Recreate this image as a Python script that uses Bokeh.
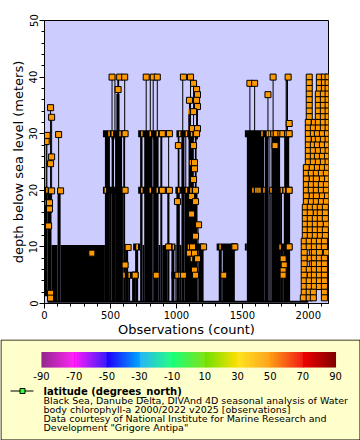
from bokeh.plotting import figure
from bokeh.layouts import column
from bokeh.models import Range1d, FixedTicker
from bokeh.core.properties import value
from bokeh.embed import file_html
from bokeh.resources import INLINE

FONT = "DejaVu Sans"
# solid profile blocks: start obs, end obs, deepest depth, shallowest depth
band_start = [0,23,53,99,122,458,496,509,527,535,588,597,611,634,664,687,725,743,756,819,824,865,878,893,931,962,992,1000,1010,1025,1038,1061,1092,1140,1160,1168,1321,1344,1351,1534,1664,1669,1699,1705,1712,1720,1786,1801,1814,1817,1834,545,552]
band_end   = [23,53,99,122,458,496,509,527,535,588,597,611,634,649,687,710,743,756,819,824,865,878,893,931,947,985,1000,1025,1023,1038,1061,1160,1132,1153,1168,1206,1344,1351,1443,1664,1669,1699,1705,1712,1720,1786,1801,1814,1862,1855,1846,568,566]
band_top   = [20,20,10.35,20,10.35,30,20,30,20,30,20,30,10.35,5,5,10.35,30,10.35,30,20,30,10.35,30,10.35,20,10.35,10.35,20,30,10.35,30,20,30,30,14,10.35,10.35,5,10.35,30,20,30,20,30,20,30,20,10.35,20,30,40,37,40]
band_bot   = [1.3]+[0.44]*52

# thin single profiles
line_x   = [13,18,46,54,107,512,534,608,771,802,824,855,941,1048,1071,1094,1099,1107,1130,1153,1160,1557,1593,1694,1733,1832]
line_top = [28.6,29.7,34.6,32.9,29.85,40,40,40,40,40,40,40,30,40,30,33.9,35.9,40,38.9,35.9,34.8,38.9,38.9,36.9,40,40]
line_bot = [17,17,16,16,19,29,29,29,29,29,29,29,19,29,19,29,29,29,29,29,29,29,29,29,29,29]

# overlapping marker runs that read as black bars
cap_start = [443,710,1000,1519,443,710,992,1557,1704,1781,0,0,672,924,1069,1305,1519,1781,603,962]
cap_end   = [611,947,1160,1878,611,947,1153,1677,1727,1878,30,38,725,992,1206,1450,1534,1878,708,1069]
cap_depth = [30,30,30,30,20,20,20,20,20,20,20,17.8,10,10,10,10,10,10,5,5]

sliver_x = [489,514,573,461,703,738,802,855,738,802,855,534,603,642,1025,1076,1115,1018,1076,1110,1092,1107,1114,1008,1023,998,977,702,1331,1649,1690,1705,1725,1786,1817,1580,1603,1618,1633,1664,1717,1796,1817,1832,1786,18,13,802,1094,1807]
sliver_y = [30,30,30,20,10,30,30,30,20,20,20,40,5,5,30,30,30,20,20,20,10,24.9,7.9,5,5,5,10,10,10,30,30,30,30,30,30,20,20,20,20,20,20,20,20,30,10,20,17.8,40,33.9,7.9]

# observation markers away from the dense column block
obs_x = [46,54,20,107,13,54,46,54,122,38,38,31,46,46,359,634,611,687,512,570,608,558,611,611,
         771,824,855,893,947,893,947,941,687,847,1053,1053,1107,1130,1153,1160,1099,1153,1160,1130,1122,1160,1153,1015,1130,1137,1137,1130,1145,1115,1008,1145,1115,1168,1145,1122,1206,1099,1137,1160,1137,1145,
         1359,1438,1557,1593,1694,1733,1847,1855,1757,1792,1807,1842,1855,1748,1855,1855,1443,1809,1817,1809,1809]
obs_y = [34.6,32.9,29.7,29.85,28.6,25.9,24.7,19.9,19.9,17.8,16.7,13.7,1.8,0.95,8.9,9.9,6.8,5,40,40,40,37.8,30,20,
         40,40,40,30,30,20,20,10,5,5,40,5,40,38.9,37.8,36.9,35.9,35.9,34.8,33.9,30.9,30.9,30,27.9,27.9,24.9,23.8,21.9,20,18.9,18,18,15.8,13.9,11.9,10,10,8.9,8.9,7.9,5.9,5,
         5,10,38.9,38.9,36.9,40,40,31.8,30,30,30,30,30,27.9,20,10,10,7.9,6.8,5.8,5]

# profile grid at the right edge, one list of observation numbers per depth
grid_depth = list(reversed(range(1, 41)))
grid_obs = [
 [2007,2084,2122,2150],[2007,2084,2122,2150],[2007,2084,2122,2150],[2007,2076,2114,2150],[2007,2076,2114,2150],
 [2007,2076,2114,2150],[2007,2076,2114,2150],[2007,2076,2114,2150],[2000,2046,2076,2114,2150],[2000,2038,2076,2114,2150],
 [2000,2038,2069,2107,2145],[2000,2046,2076,2114,2150],[2000,2038,2069,2107,2145],[2000,2038,2076,2114,2150],[2000,2038,2069,2107,2145],
 [2000,2038,2076,2114,2150],[1985,2030,2069,2107,2145],[1985,2023,2061,2099,2137],[1985,2030,2061,2107,2145],[1985,2023,2061,2099,2137],
 [1985,2023,2061,2099,2137],[1985,2030,2061,2107,2145],[1985,2023,2061,2099,2137],[1977,2015,2053,2091,2129],[1977,2015,2061,2091,2129],
 [1977,2015,2053,2091,2129],[1977,2015,2053,2091,2137],[1977,2015,2053,2091,2129],[1977,2015,2053,2091,2129],[1969,2007,2046,2084,2122],
 [1969,2007,2046,2084,2122],[1969,2030,2046,2084,2137],[1969,2015,2046,2084,2122],[1969,2030,2046,2084,2122],[1969,2007,2046,2084,2122],
 [1969,2015,2046,2084,2122],[1969,2007,2046,2084,2122],[1969,2007,2046,2084,2122],[1969,2007,2038,2122],[1962,2007,2038,2122],
]

x_ticks = [0,500,1000,1500,2000]
x_minor = [100,200,300,400,600,700,800,900,1100,1200,1300,1400,1600,1700,1800,1900,2100]
y_ticks = [0,10,20,30,40,50]
y_minor = [2,4,6,8,12,14,16,18,22,24,26,28,32,34,36,38,42,44,46,48]

p = figure(width=360, height=339, output_backend="svg", toolbar_location=None,
           x_range=Range1d(0, 2153), y_range=Range1d(0, 50),
           min_border_left=44, min_border_right=32, min_border_top=20, min_border_bottom=36,
           background_fill_color="#ccccff", border_fill_color="#ffffff",
           x_axis_label="Observations (count)", y_axis_label="depth below sea level (meters)")
p.margin = 0
p.grid.visible = False
p.outline_line_color = "#000000"
p.outline_line_width = 1

for ax in (p.xaxis[0], p.yaxis[0]):
    ax.axis_line_color = "#000000"
    ax.major_tick_line_color = "#000000"
    ax.minor_tick_line_color = "#000000"
    ax.major_tick_in = 0
    ax.major_tick_out = 5
    ax.minor_tick_in = 0
    ax.minor_tick_out = 3
    ax.major_label_text_font = FONT
    ax.major_label_text_font_size = "10px"
    ax.major_label_text_color = "#000000"
    ax.axis_label_text_font = FONT
    ax.axis_label_text_font_size = "13px"
    ax.axis_label_text_font_style = "normal"
    ax.axis_label_text_color = "#000000"
p.xaxis[0].ticker = FixedTicker(ticks=x_ticks, minor_ticks=x_minor)
p.yaxis[0].ticker = FixedTicker(ticks=y_ticks, minor_ticks=y_minor)
p.yaxis[0].major_label_orientation = "vertical"
p.xaxis[0].major_label_standoff = 2
p.yaxis[0].major_label_standoff = 2
p.xaxis[0].axis_label_standoff = 0
p.yaxis[0].axis_label_standoff = 1

p.quad(left=band_start, right=band_end, top=band_top, bottom=band_bot,
       fill_color="#000000", line_color="#000000", line_width=0)
p.segment(x0=line_x, x1=line_x, y0=line_bot, y1=line_top, line_color="#000000", line_width=1)
p.segment(x0=[23], x1=[2000], y0=[0.3], y1=[0.3], line_color="#000000", line_width=2)
p.segment(x0=cap_start, x1=cap_end, y0=cap_depth, y1=cap_depth, line_color="#000000", line_width=7, line_cap="butt")
p.rect(x=sliver_x, y=sliver_y, width=1.5, height=5, width_units="screen", height_units="screen",
       fill_color="#ff9900", line_color=None)
p.scatter(obs_x, obs_y, marker="square", size=6, fill_color="#ff9900", line_color="#000000", line_width=1)
gx, gy = [], []
for d, row in zip(grid_depth, grid_obs):
    for o in row:
        gx.append(o)
        gy.append(d)
p.scatter(gx, gy, marker="square", size=6, fill_color="#ff9900", line_color="#000000", line_width=1)

# legend panel
cb_vals = [-90,-70,-50,-30,-10,10,30,50,70,90]
cb_hex = ["#800080","#ff00ff","#2000ff","#00a8ff","#00ff70","#70e000","#ffe000","#ff9000","#f00000","#800000"]
legend_name = "latitude (degrees_north)"
legend_lines = ["Black Sea, Danube Delta, DIVAnd 4D seasonal analysis of Water",
                "body chlorophyll-a 2000/2022 v2025 [observations]",
                "Data courtesy of National Institute for Marine Research and",
                "Development \"Grigore Antipa\""]

q = figure(width=360, height=101, output_backend="svg", toolbar_location=None,
           x_range=Range1d(0, 360), y_range=Range1d(101, 0),
           min_border_left=0, min_border_right=0, min_border_top=0, min_border_bottom=0,
           background_fill_color="#ffffcc", border_fill_color="#ffffcc")
q.margin = 0
q.axis.visible = False
q.grid.visible = False
q.outline_line_color = None
q.quad(left=[0.5], right=[359.5], top=[0.5], bottom=[100.5], fill_color="#ffffcc", line_color="#000000", line_width=1)

def rgb(h):
    return [int(h[i:i+2], 16) for i in (1, 3, 5)]
cl, cr, cc = [], [], []
for i in range(len(cb_vals) - 1):
    a, b = rgb(cb_hex[i]), rgb(cb_hex[i + 1])
    span = (cb_vals[i + 1] - cb_vals[i]) * 294 / 180
    for s in range(round(span)):
        t = s / span
        c = [round(a[k] + (b[k] - a[k]) * t) for k in range(3)]
        cl.append(41 + (cb_vals[i] + 90) * 294 / 180 + s)
        cr.append(41 + (cb_vals[i] + 90) * 294 / 180 + s + 1.2)
        cc.append("#%02x%02x%02x" % tuple(c))
q.quad(left=cl, right=cr, top=[12.5]*len(cl), bottom=[28]*len(cl), fill_color=cc, line_color=None)
q.text(x=[41 + (v + 90) * 294 / 180 for v in cb_vals], y=[36]*len(cb_vals), text=[str(v) for v in cb_vals],
       text_font=value(FONT), text_font_size="10px", text_color="#000000",
       text_align="center", text_baseline="middle")
q.segment(x0=[10], x1=[33], y0=[51.5], y1=[51.5], line_color="#000000", line_width=1)
q.scatter([22], [51.5], marker="square", size=5, fill_color="#33ff33", line_color="#000000", line_width=1)
q.text(x=[43], y=[51.5], text=[legend_name], text_font=value(FONT), text_font_size="10px",
       text_font_style="bold", text_color="#000000", text_baseline="middle")
q.text(x=[43]*4, y=[60.5, 69.8, 79, 88], text=legend_lines, text_font=value(FONT), text_font_size="9.5px",
       text_color="#000000", text_baseline="middle")

layout = column(column(p, margin=0), column(q, margin=0), spacing=0, margin=0)
open("out.html", "w").write(file_html(layout, INLINE))
